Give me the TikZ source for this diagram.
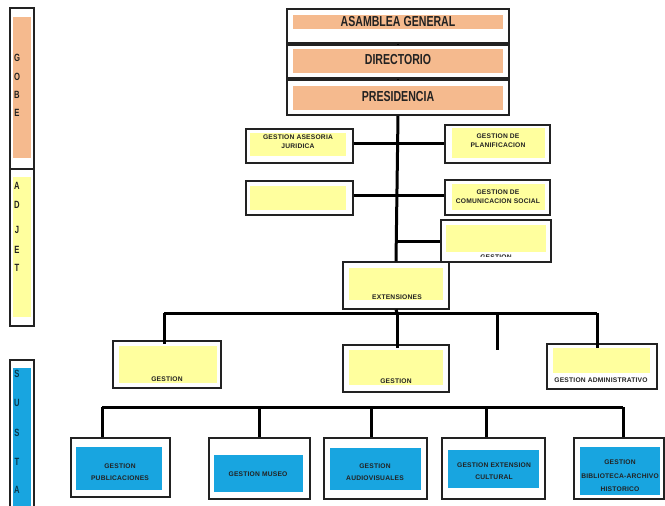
\documentclass[tikz,border=0pt]{standalone}
\usepackage{fontspec}
\setmainfont{Liberation Sans}
\newfontfamily\narf[FakeStretch=0.73]{Liberation Sans}
\newfontfamily\smaf[LetterSpace=3]{Liberation Sans}
\usetikzlibrary{fit}
\definecolor{peach}{HTML}{F5BA8E}
\definecolor{lyel}{HTML}{FFFF9E}
\definecolor{sky}{HTML}{18A5E0}
\definecolor{ink}{HTML}{222222}
\tikzset{
 obox/.style={draw=ink, line width=1.2pt, inner sep=0pt, fill=white},
 tbox/.style={draw=ink, line width=1.6pt, inner sep=0pt, fill=white},
 ofill/.style={fill=peach, draw=none, inner sep=0pt},
 yfill/.style={fill=lyel, draw=none, inner sep=0pt},
 bfill/.style={fill=sky, draw=none, inner sep=0pt},
 big/.style={font=\narf\bfseries\fontsize{14.5}{14.5}\selectfont, text=ink, inner sep=0pt},
 sm/.style={font=\smaf\bfseries\fontsize{6.7}{9}\selectfont, text=ink, inner sep=0pt, align=center},
 smb/.style={font=\smaf\bfseries\fontsize{6.7}{12.5}\selectfont, text=ink, inner sep=0pt, align=center},
 side/.style={font=\narf\bfseries\fontsize{10.5}{10.5}\selectfont, text=ink, inner sep=0pt},
 wire/.style={line width=3pt, black},
}
\begin{document}
\begin{tikzpicture}[x=1pt,y=-1pt]
\useasboundingbox (0,0) rectangle (665,506);
\fill[white] (0,0) rectangle (665,506);

% ---------- left sidebar ----------
\node[obox, fit={(10,8) (34,169)}] (sgob) {};
\node[ofill, fit={(13,17) (31,158)}] (sgobf) {};
\node[obox, fit={(10,169) (34,326)}] (sadj) {};
\node[yfill, fit={(13,177) (31,317)}] (sadjf) {};
\node[obox, fit={(10,360) (34,520)}] (ssus) {};
\node[bfill, fit={(13,368) (31,520)}] (ssusf) {};
\node[side] (lg1) at (17,58) {G};
\node[side] (lg2) at (17,77) {O};
\node[side] (lg3) at (17,95) {B};
\node[side] (lg4) at (17,113) {E};
\node[side] (la1) at (17,186) {A};
\node[side] (la2) at (17,205) {D};
\node[side] (la3) at (17,230) {J};
\node[side] (la4) at (17,250) {E};
\node[side] (la5) at (17,268) {T};
\node[side, text=black!65!sky] (ls1) at (17,374) {S};
\node[side, text=black!65!sky] (ls2) at (17,403) {U};
\node[side, text=black!65!sky] (ls3) at (17,433) {S};
\node[side, text=black!65!sky] (ls4) at (17,462) {T};
\node[side, text=black!65!sky] (ls5) at (17,490) {A};

% ---------- top chain ----------
\node[tbox, fit={(287,9) (509,43)}] (asam) {};
\node[ofill, fit={(293,15) (503,29)}] (asamf) {};
\node[big] (asamt) at (398,22) {ASAMBLEA GENERAL};
\node[tbox, fit={(287,45) (509,78)}] (dir) {};
\node[ofill, fit={(293,49) (503,73)}] (dirf) {};
\node[big] (dirt) at (398,60) {DIRECTORIO};
\node[tbox, fit={(287,80) (509,115)}] (pres) {};
\node[ofill, fit={(293,86) (503,110)}] (presf) {};
\node[big] (prest) at (398,97) {PRESIDENCIA};

% ---------- staff boxes ----------
\node[obox, fit={(246,129) (353,163)}] (l1) {};
\node[yfill, fit={(250,133) (346,156)}] (l1f) {};
\node[sm] (l1t) at (298,142) {GESTION ASESORIA\\JURIDICA};
\node[obox, fit={(246,181) (353,215)}] (l2) {};
\node[yfill, fit={(250,186) (346,210)}] (l2f) {};
\node[obox, fit={(445,125) (550,163)}] (r1) {};
\node[yfill, fit={(452,128) (545,158)}] (r1f) {};
\node[sm] (r1t) at (498,141) {GESTION DE\\PLANIFICACION};
\node[obox, fit={(445,180) (550,215)}] (r2) {};
\node[yfill, fit={(452,184) (545,210)}] (r2f) {};
\node[sm] (r2t) at (498,197) {GESTION DE\\COMUNICACION SOCIAL};
\node[obox, fit={(441,220) (551,262)}] (r3) {};
\node[yfill, fit={(446,225) (546,252)}] (r3f) {};
\begin{scope}
\clip (441,220) rectangle (551,256);
\node[sm] (r3t) at (496,257) {GESTION};
\end{scope}

% ---------- extensiones ----------
\node[obox, fit={(343,262) (449,309)}] (ext) {};
\node[yfill, fit={(349,268) (443,300)}] (extf) {};
\node[sm] (extt) at (397,297) {EXTENSIONES};

% ---------- second level ----------
\node[obox, fit={(113,341) (221,388)}] (g1) {};
\node[yfill, fit={(119,346) (217,383)}] (g1f) {};
\node[sm] (g1t) at (167,379) {GESTION};
\node[obox, fit={(343,345) (449,392)}] (g2) {};
\node[yfill, fit={(349,350) (443,385)}] (g2f) {};
\node[sm] (g2t) at (396,381) {GESTION};
\node[obox, fit={(547,344) (657,389)}] (g3) {};
\node[yfill, fit={(553,348) (650,373)}] (g3f) {};
\node[sm] (g3t) at (601,380) {GESTION ADMINISTRATIVO};

% ---------- third level ----------
\node[obox, fit={(71,438) (170,497)}] (b1) {};
\node[bfill, fit={(76,447) (162,490)}] (b1f) {};
\node[smb] (b1t) at (120,472) {GESTION\\PUBLICACIONES};
\node[obox, fit={(209,438) (310,499)}] (b2) {};
\node[bfill, fit={(214,455) (303,492)}] (b2f) {};
\node[smb] (b2t) at (258,474) {GESTION MUSEO};
\node[obox, fit={(324,438) (427,499)}] (b3) {};
\node[bfill, fit={(330,448) (421,490)}] (b3f) {};
\node[smb] (b3t) at (375,472) {GESTION\\AUDIOVISUALES};
\node[obox, fit={(442,438) (545,499)}] (b4) {};
\node[bfill, fit={(448,450) (539,488)}] (b4f) {};
\node[smb] (b4t) at (494,471) {GESTION EXTENSION\\CULTURAL};
\node[obox, fit={(574,438) (664,499)}] (b5) {};
\node[bfill, fit={(580,447) (660,495)}] (b5f) {};
\node[font=\smaf\bfseries\fontsize{6.7}{13.5}\selectfont, text=ink, inner sep=0pt, align=center] (b5t) at (620,476) {GESTION\\BIBLIOTECA-ARCHIVO\\HISTORICO};

% ---------- connectors ----------
\draw[line width=1.8pt] (asam.south) -- (dir.north);
\draw[line width=1.8pt] (dir.south) -- (pres.north);
\draw[wire] (pres.south) -- (ext.north);
\draw[wire] (l1.east |- 0,143) -- (r1.west |- 0,143);
\draw[wire] (l2.east |- 0,195) -- (r2.west |- 0,195);
\draw[wire] (r3.west -| pres.south) -- (r3.west);

\coordinate (d1) at (164,313);
\coordinate (d2) at (397,313);
\coordinate (d3) at (497,313);
\coordinate (d4) at (597,313);
\coordinate (d3e) at (497,350);
\draw[wire] (ext.south) -- (d2);
\draw[wire] (d1) -- (d4);
\draw[wire, shorten >=-4pt] (d1) -- (d1 |- g1.north);
\draw[wire, shorten >=-4pt] (d2) -- (d2 |- g2.north);
\draw[wire] (d3) -- (d3e);
\draw[wire, shorten >=-5pt] (d4) -- (d4 |- g3.north);

\coordinate (e1) at (102,407);
\coordinate (e2) at (259,407);
\coordinate (e3) at (371,407);
\coordinate (e4) at (486,407);
\coordinate (e5) at (623,407);
\draw[wire] (e1) -- (e5);
\draw[wire] (e1) -- (e1 |- b1.north);
\draw[wire] (e2) -- (e2 |- b2.north);
\draw[wire] (e3) -- (e3 |- b3.north);
\draw[wire] (e4) -- (e4 |- b4.north);
\draw[wire] (e5) -- (e5 |- b5.north);
\end{tikzpicture}
\end{document}
